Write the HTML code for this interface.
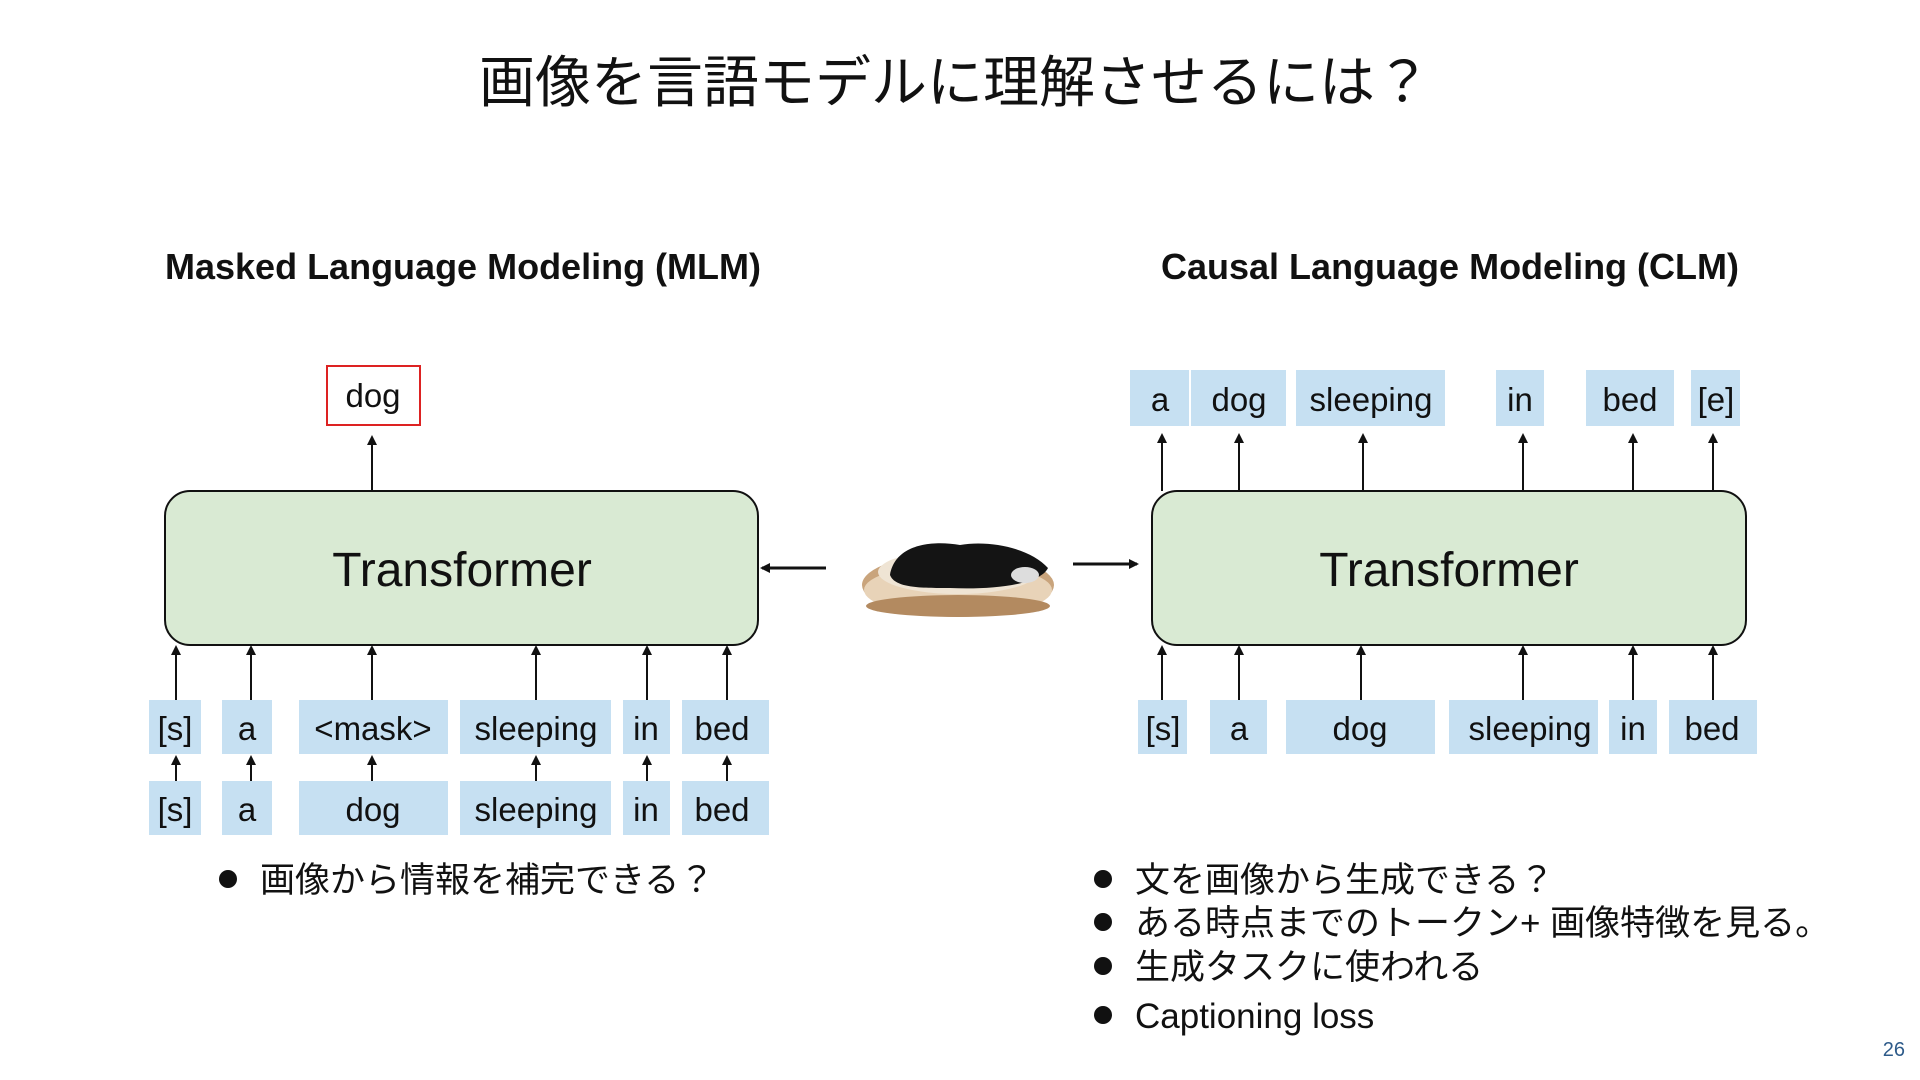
<!DOCTYPE html>
<html><head><meta charset="utf-8"><style>
html,body{margin:0;padding:0;background:#fff;}
svg{display:block}
text{font-family:"Liberation Sans","Noto Sans CJK JP",sans-serif;fill:#111;}
.tk{font-size:33px;text-anchor:middle;}
.b{fill:#c6e0f2;}
</style></head><body>
<svg width="1920" height="1080" viewBox="0 0 1920 1080" xmlns="http://www.w3.org/2000/svg">
<defs><marker id="ah" markerWidth="10" markerHeight="10" refX="8" refY="5" orient="auto" markerUnits="userSpaceOnUse"><path d="M0,0 L10,5 L0,10 z" fill="#111"/></marker></defs>
<text x="955" y="102" style="font-size:56px;text-anchor:middle">画像を言語モデルに理解させるには？</text>
<text x="165" y="279" style="font-size:36px;font-weight:bold">Masked Language Modeling (MLM)</text>
<text x="1161" y="279" style="font-size:36px;font-weight:bold">Causal Language Modeling (CLM)</text>

<rect x="165" y="491" width="593" height="154" rx="25" fill="#d9ead3" stroke="#111" stroke-width="2"/>
<text x="462" y="586" style="font-size:48px;text-anchor:middle">Transformer</text>
<rect x="1152" y="491" width="594" height="154" rx="25" fill="#d9ead3" stroke="#111" stroke-width="2"/>
<text x="1449" y="586" style="font-size:48px;text-anchor:middle">Transformer</text>

<rect x="327" y="366" width="93" height="59" fill="#fff" stroke="#d22" stroke-width="2"/>
<text class="tk" x="373" y="407">dog</text>
<line x1="372" y1="491" x2="372" y2="437" stroke="#111" stroke-width="2" marker-end="url(#ah)"/>

<g>
<rect class="b" x="149" y="700" width="52" height="54"/><text class="tk" x="175" y="740">[s]</text>
<rect class="b" x="222" y="700" width="50" height="54"/><text class="tk" x="247" y="740">a</text>
<rect class="b" x="299" y="700" width="149" height="54"/><text class="tk" x="373" y="740">&lt;mask&gt;</text>
<rect class="b" x="460" y="700" width="151" height="54"/><text class="tk" x="536" y="740">sleeping</text>
<rect class="b" x="623" y="700" width="47" height="54"/><text class="tk" x="646" y="740">in</text>
<rect class="b" x="682" y="700" width="87" height="54"/><text class="tk" x="722" y="740">bed</text>

<rect class="b" x="149" y="781" width="52" height="54"/><text class="tk" x="175" y="821">[s]</text>
<rect class="b" x="222" y="781" width="50" height="54"/><text class="tk" x="247" y="821">a</text>
<rect class="b" x="299" y="781" width="149" height="54"/><text class="tk" x="373" y="821">dog</text>
<rect class="b" x="460" y="781" width="151" height="54"/><text class="tk" x="536" y="821">sleeping</text>
<rect class="b" x="623" y="781" width="47" height="54"/><text class="tk" x="646" y="821">in</text>
<rect class="b" x="682" y="781" width="87" height="54"/><text class="tk" x="722" y="821">bed</text>
</g>
<g stroke="#111" stroke-width="2" marker-end="url(#ah)">
<line x1="176" y1="700" x2="176" y2="647"/><line x1="251" y1="700" x2="251" y2="647"/>
<line x1="372" y1="700" x2="372" y2="647"/><line x1="536" y1="700" x2="536" y2="647"/>
<line x1="647" y1="700" x2="647" y2="647"/><line x1="727" y1="700" x2="727" y2="647"/>
<line x1="176" y1="781" x2="176" y2="757"/><line x1="251" y1="781" x2="251" y2="757"/>
<line x1="372" y1="781" x2="372" y2="757"/><line x1="536" y1="781" x2="536" y2="757"/>
<line x1="647" y1="781" x2="647" y2="757"/><line x1="727" y1="781" x2="727" y2="757"/>
<line x1="826" y1="568" x2="762" y2="568" stroke-width="3"/>
<line x1="1073" y1="564" x2="1137" y2="564" stroke-width="3"/>
<line x1="1162" y1="491" x2="1162" y2="435"/><line x1="1239" y1="491" x2="1239" y2="435"/>
<line x1="1363" y1="491" x2="1363" y2="435"/><line x1="1523" y1="491" x2="1523" y2="435"/>
<line x1="1633" y1="491" x2="1633" y2="435"/><line x1="1713" y1="491" x2="1713" y2="435"/>
<line x1="1162" y1="700" x2="1162" y2="647"/><line x1="1239" y1="700" x2="1239" y2="647"/>
<line x1="1361" y1="700" x2="1361" y2="647"/><line x1="1523" y1="700" x2="1523" y2="647"/>
<line x1="1633" y1="700" x2="1633" y2="647"/><line x1="1713" y1="700" x2="1713" y2="647"/>
</g>

<rect class="b" x="1130" y="370" width="59" height="56"/><text class="tk" x="1160" y="411">a</text>
<rect class="b" x="1191" y="370" width="95" height="56"/><text class="tk" x="1239" y="411">dog</text>
<rect class="b" x="1296" y="370" width="149" height="56"/><text class="tk" x="1371" y="411">sleeping</text>
<rect class="b" x="1496" y="370" width="48" height="56"/><text class="tk" x="1520" y="411">in</text>
<rect class="b" x="1586" y="370" width="88" height="56"/><text class="tk" x="1630" y="411">bed</text>
<rect class="b" x="1691" y="370" width="49" height="56"/><text class="tk" x="1716" y="411">[e]</text>

<rect class="b" x="1138" y="700" width="49" height="54"/><text class="tk" x="1163" y="740">[s]</text>
<rect class="b" x="1210" y="700" width="57" height="54"/><text class="tk" x="1239" y="740">a</text>
<rect class="b" x="1286" y="700" width="149" height="54"/><text class="tk" x="1360" y="740">dog</text>
<rect class="b" x="1449" y="700" width="149" height="54"/><text class="tk" x="1530" y="740">sleeping</text>
<rect class="b" x="1609" y="700" width="48" height="54"/><text class="tk" x="1633" y="740">in</text>
<rect class="b" x="1669" y="700" width="88" height="54"/><text class="tk" x="1712" y="740">bed</text>

<g>
<ellipse cx="958" cy="585" rx="96" ry="32" fill="#c9a47c"/>
<ellipse cx="958" cy="590" rx="94" ry="26" fill="#e8d3b8"/>
<ellipse cx="958" cy="572" rx="80" ry="22" fill="#efe4d4"/>
<path d="M890,575 C895,545 930,540 960,545 C990,540 1030,548 1048,568 C1040,585 990,590 950,588 C920,588 895,588 890,575z" fill="#141414"/>
<ellipse cx="1025" cy="575" rx="14" ry="8" fill="#ddd"/>
<ellipse cx="958" cy="606" rx="92" ry="11" fill="#b38a60"/>
</g>

<g style="font-size:35px">
<circle cx="228" cy="879" r="9" fill="#111"/><text x="260" y="892">画像から情報を補完できる？</text>
<circle cx="1103" cy="879" r="9" fill="#111"/><text x="1135" y="892">文を画像から生成できる？</text>
<circle cx="1103" cy="922" r="9" fill="#111"/><text x="1135" y="935">ある時点までのトークン+ 画像特徴を見る。</text>
<circle cx="1103" cy="966" r="9" fill="#111"/><text x="1135" y="979">生成タスクに使われる</text>
<circle cx="1103" cy="1015" r="9" fill="#111"/><text x="1135" y="1028">Captioning loss</text>
</g>
<text x="1905" y="1056" style="font-size:20px;fill:#2e5b8a;text-anchor:end">26</text>
</svg>
</body></html>
